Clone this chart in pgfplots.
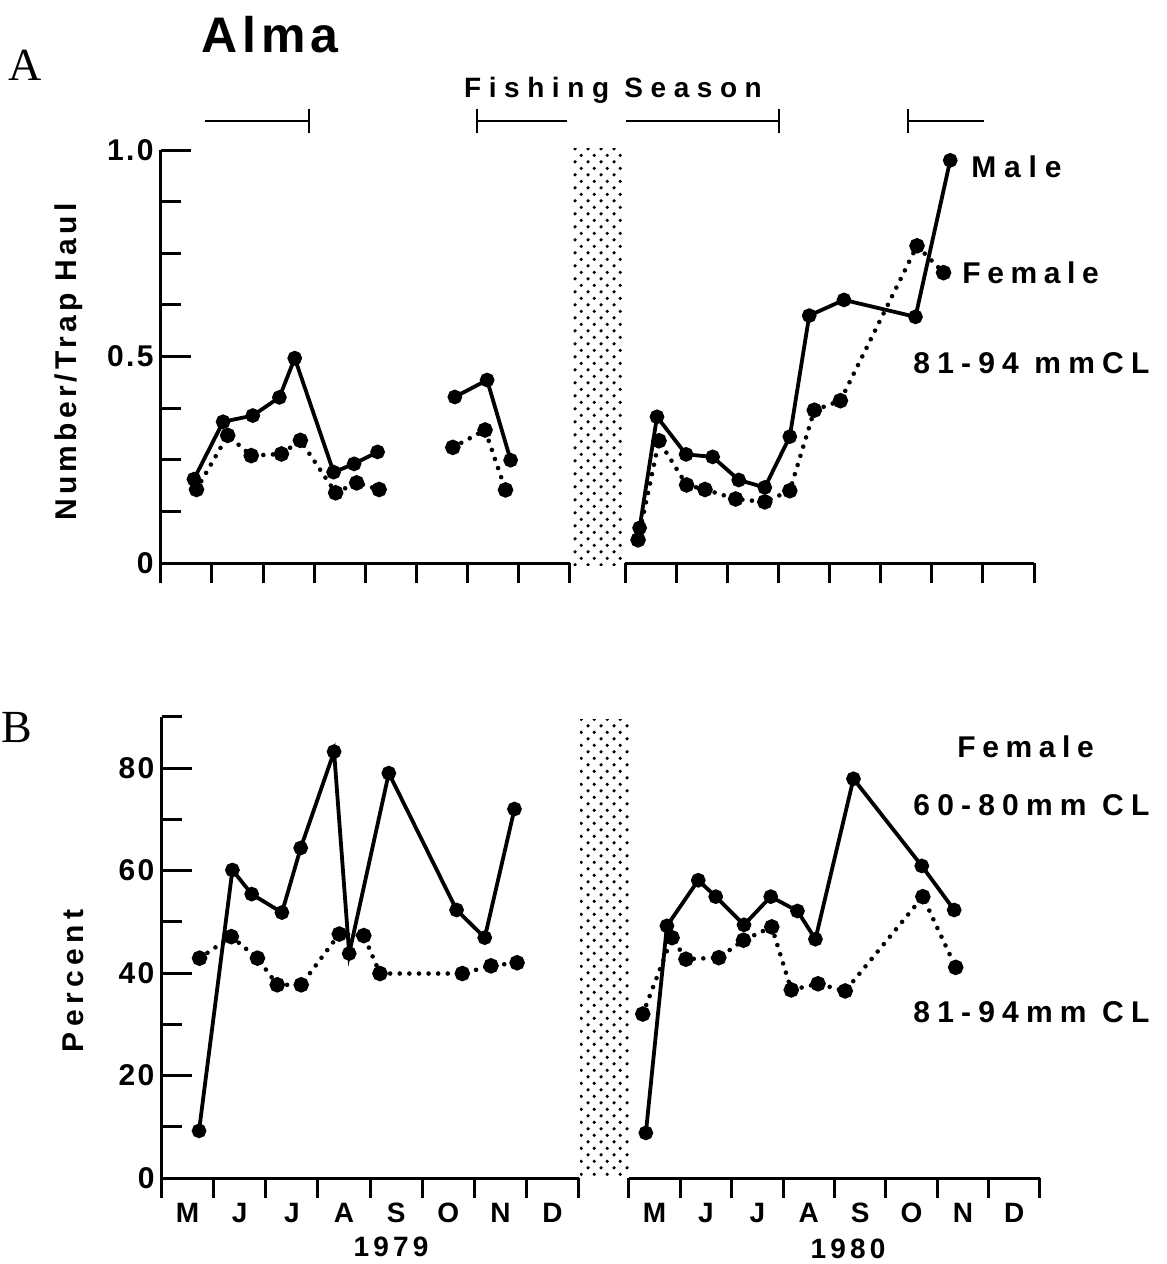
\documentclass[border=0pt]{standalone}
\usepackage{fontspec}
\setmainfont{Liberation Sans}
\newfontfamily\serifA{Liberation Serif}
\usepackage{pgfplots}
\pgfplotsset{compat=1.18}
\usetikzlibrary{patterns}

\pgfdeclarepatternformonly{stipple}{\pgfqpoint{0pt}{0pt}}{\pgfqpoint{6.5pt}{6.7pt}}{\pgfqpoint{6.5pt}{6.7pt}}{%
  \pgfpathcircle{\pgfqpoint{1.625pt}{1.675pt}}{0.95pt}%
  \pgfpathcircle{\pgfqpoint{4.875pt}{5.025pt}}{0.95pt}%
  \pgfusepath{fill}}

\newcommand\tsp[2]{\fontsize{#1}{#1}\selectfont\bfseries\addfontfeature{LetterSpace=#2}}

\pgfplotsset{
  base/.style={scale only axis, anchor=south west, clip=false,
    axis line style={line width=1.5pt},
    xmin=0, xmax=8,
    xtick align=outside, ytick align=inside,
    xtick={0.5,1.5,...,7.5},
    major x tick style={draw=none},
    minor xtick={0,1,...,8},
    minor tick length=10pt, major tick length=15pt,
    tick style={line width=1.5pt, black},
    ticklabel style={font=\fontsize{15}{15}\selectfont\bfseries\addfontfeature{LetterSpace=8}},
    xticklabel style={font=\fontsize{14}{14}\selectfont\bfseries, yshift=6pt},
    /pgf/number format/assume math mode=true,
    axis x line*=bottom,
  },
  male/.style={black, line width=1.9pt, mark=*, mark size=2.7pt, mark options={solid}},
  female/.style={black, line width=2.3pt, line cap=round, dash pattern=on 0pt off 4.8pt, mark=*, mark size=2.7pt, mark options={solid}},
}

\begin{document}
\begin{tikzpicture}
\useasboundingbox (0,0) rectangle (583.5pt,-632pt);

% ---------- Panel A, 1979 ----------
\begin{axis}[base, at={(80.35pt,-281.5pt)}, width=204.65pt, height=206.5pt,
  ymin=0, ymax=1, axis y line*=left,
  ytick={0,0.5,1}, yticklabels={0,0.5,1.0},
  minor ytick={0.125,0.25,0.375,0.625,0.75,0.875},
  xticklabels={}]
\addplot[male] coordinates {(0.65,0.203) (1.22,0.342) (1.80,0.357) (2.32,0.401) (2.62,0.496) (3.38,0.220) (3.78,0.240) (4.24,0.269)};
\addplot[male] coordinates {(5.75,0.402) (6.38,0.443) (6.84,0.249)};
\addplot[female] coordinates {(0.70,0.178) (1.31,0.309) (1.77,0.260) (2.36,0.264) (2.73,0.297) (3.42,0.170) (3.83,0.194) (4.27,0.178)};
\addplot[female] coordinates {(5.71,0.280) (6.34,0.322) (6.74,0.177)};
\end{axis}

% ---------- Panel A, 1980 ----------
\begin{axis}[base, at={(312.65pt,-281.5pt)}, width=204.35pt, height=206.5pt,
  ymin=0, ymax=1, axis y line=none, ytick=\empty,
  xticklabels={}]
\addplot[male] coordinates {(0.28,0.085) (0.62,0.354) (1.19,0.263) (1.71,0.257) (2.22,0.201) (2.73,0.183) (3.22,0.306) (3.60,0.599) (4.28,0.637) (5.68,0.596) (6.36,0.975)};
\addplot[female] coordinates {(0.25,0.056) (0.66,0.296) (1.20,0.189) (1.56,0.178) (2.16,0.155) (2.73,0.148) (3.22,0.175) (3.70,0.370) (4.21,0.393) (5.71,0.768) (6.23,0.703)};
\end{axis}

% ---------- Panel B, 1979 ----------
\begin{axis}[base, at={(80.75pt,-589pt)}, width=208.55pt, height=230.625pt,
  ymin=0, ymax=90, axis y line*=left,
  ytick={0,20,40,60,80}, minor ytick={10,30,50,70,90},
  xticklabels={M,J,J,A,S,O,N,D}]
\addplot[male] coordinates {(0.72,9.2) (1.36,60.1) (1.73,55.4) (2.31,51.8) (2.67,64.4) (3.31,83.2) (3.60,43.8) (4.36,79.0) (5.66,52.3) (6.20,46.9) (6.77,72.0)};
\addplot[female] coordinates {(0.73,42.9) (1.34,47.1) (1.84,42.9) (2.22,37.7) (2.68,37.7) (3.41,47.6) (3.88,47.3) (4.19,39.9) (5.77,39.9) (6.32,41.4) (6.82,42.0)};
\end{axis}

% ---------- Panel B, 1980 ----------
\begin{axis}[base, at={(314.45pt,-589pt)}, width=205.55pt, height=230.625pt,
  ymin=0, ymax=90, axis y line=none, ytick=\empty,
  xticklabels={M,J,J,A,S,O,N,D}]
\addplot[male] coordinates {(0.33,8.8) (0.74,49.2) (1.35,58.1) (1.69,54.9) (2.24,49.4) (2.76,54.9) (3.28,52.1) (3.63,46.6) (4.37,77.9) (5.70,60.9) (6.33,52.3)};
\addplot[female] coordinates {(0.27,32.0) (0.84,46.9) (1.11,42.7) (1.75,43.0) (2.23,46.4) (2.78,49.0) (3.16,36.7) (3.68,37.9) (4.21,36.5) (5.72,54.9) (6.36,41.1)};
\end{axis}

% ---------- decorations (pixel units, y downward) ----------
\begin{scope}[x=0.5pt, y=-0.5pt]
  \fill[pattern=stipple] (572,148) rectangle (622,565);
  \fill[pattern=stipple] (580,719) rectangle (631,1177);

  % fishing season bars
  \draw[line width=1.1pt] (205,121) -- (309,121);
  \draw[line width=1.1pt] (309,109) -- (309,133);
  \draw[line width=1.1pt] (477,121) -- (567,121);
  \draw[line width=1.1pt] (477,109) -- (477,133);
  \draw[line width=1.1pt] (626,121) -- (779,121);
  \draw[line width=1.1pt] (779,109) -- (779,133);
  \draw[line width=1.1pt] (908,121) -- (984,121);
  \draw[line width=1.1pt] (908,109) -- (908,133);

  \node[anchor=base, inner sep=0pt] at (270,52) {\tsp{25}{10}Alma};
  \node[anchor=base, inner sep=0pt] at (25,80) {\fontsize{23}{23}\selectfont\serifA A};
  \node[anchor=base, inner sep=0pt] at (17,742) {\fontsize{23}{23}\selectfont\serifA B};
  \node[anchor=base, inner sep=0pt] at (613,97) {\tsp{14}{27}Fishing Season};

  \node[anchor=base west, inner sep=0pt] at (971,177) {\tsp{15}{26}Male};
  \node[anchor=base west, inner sep=0pt] at (962,283) {\tsp{15}{22}Female};
  \node[anchor=base west, inner sep=0pt] at (913,373) {\tsp{15}{24}81-94 mmCL};

  \node[anchor=base west, inner sep=0pt] at (957,757) {\tsp{15}{22}Female};
  \node[anchor=base west, inner sep=0pt] at (913,815) {\tsp{15}{24}60-80mm CL};
  \node[anchor=base west, inner sep=0pt] at (913,1022) {\tsp{15}{24}81-94mm CL};

  \node[rotate=90, inner sep=0pt] at (69,362) {\tsp{15}{14}Number/Trap Haul};
  \node[rotate=90, inner sep=0pt] at (73,981) {\tsp{15}{18}Percent};

  \node[anchor=base, inner sep=0pt] at (391,1256) {\tsp{14}{15}1979};
  \node[anchor=base, inner sep=0pt] at (848,1258) {\tsp{14}{15}1980};
\end{scope}
\end{tikzpicture}
\end{document}
